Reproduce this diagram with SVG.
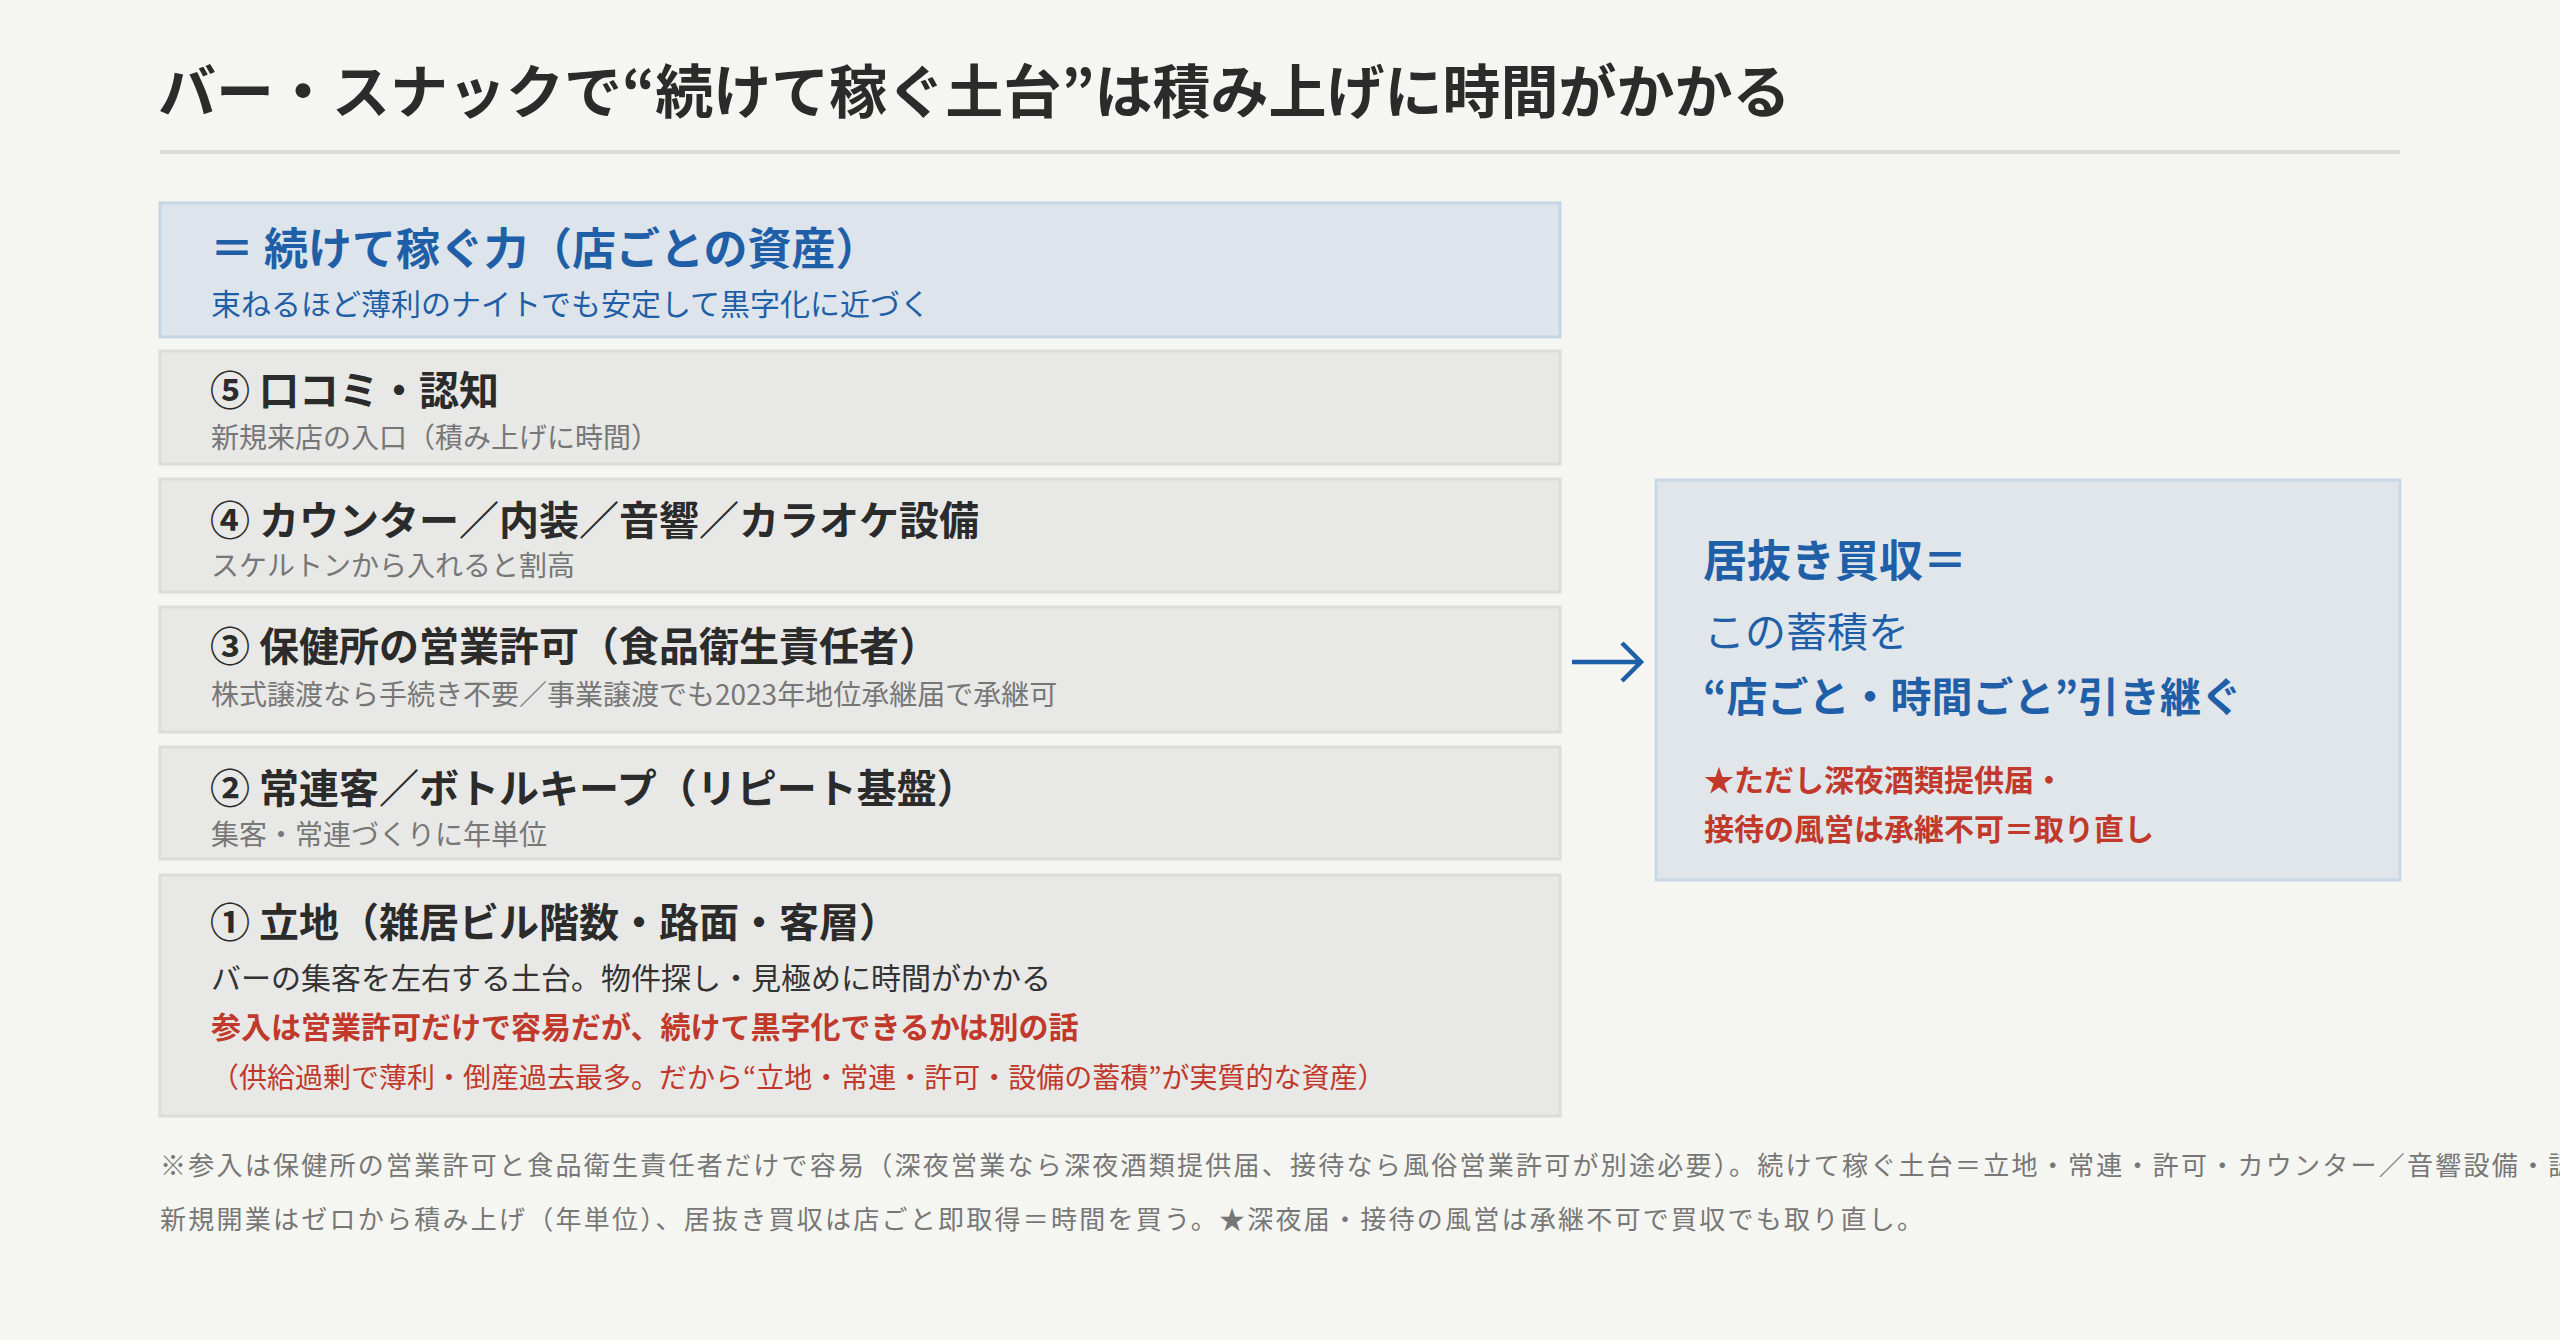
<svg xmlns="http://www.w3.org/2000/svg" width="2560" height="1340" viewBox="0 0 2560 1340">
<style>
text{font-family:"Noto Sans CJK JP","Noto Sans",sans-serif;}
.h1{font-size:58px;font-weight:700;fill:#2b2b2b;}
.box{fill:#e8e8e6;stroke:#dcdcd9;stroke-width:3;}
.bbox{fill:#dde4eb;stroke:#c6d5e5;stroke-width:3;}
.rbox{fill:#e1e6eb;stroke:#c9d7e6;stroke-width:3;}
.t{font-size:40px;font-weight:700;fill:#2b2b2b;}
.s{font-size:28px;fill:#777777;}
.body{font-size:30px;fill:#333333;}
.red{font-size:30px;font-weight:700;fill:#c0392b;}
.redn{font-size:28px;fill:#c0392b;}
.bt{font-size:44px;font-weight:700;fill:#1f5fa8;}
.bs{font-size:30px;fill:#1f5fa8;}
.bm{font-size:41px;fill:#1f5fa8;}
.bmb{font-size:41px;font-weight:700;fill:#1f5fa8;}
.note{font-size:26px;fill:#777777;letter-spacing:2.25px;}
.arrow{fill:none;stroke:#1f5fa8;stroke-width:4.5;stroke-linecap:butt;stroke-linejoin:miter;}
</style>
<rect width="2560" height="1340" fill="#f5f5f1"/>
<g id="title">
<text class="h1" x="158" y="113">バー・スナックで“続けて稼ぐ土台”は積み上げに時間がかかる</text>
<rect x="160" y="150" width="2240" height="4" fill="#dcdcd6"/>
</g>
<g id="node-asset">
<rect class="bbox" x="160" y="203" width="1400" height="134"/>
<text class="bt" x="210" y="265">＝ 続けて稼ぐ力（店ごとの資産）</text>
<text class="bs" x="211" y="315">束ねるほど薄利のナイトでも安定して黒字化に近づく</text>
</g>
<g id="node-5">
<rect class="box" x="160" y="351" width="1400" height="113"/>
<text class="t" x="210" y="405">⑤ 口コミ・認知</text>
<text class="s" x="211" y="448">新規来店の入口（積み上げに時間）</text>
</g>
<g id="node-4">
<rect class="box" x="160" y="479" width="1400" height="113"/>
<text class="t" x="210" y="535">④ カウンター／内装／音響／カラオケ設備</text>
<text class="s" x="211" y="576">スケルトンから入れると割高</text>
</g>
<g id="node-3">
<rect class="box" x="160" y="607" width="1400" height="125"/>
<text class="t" x="210" y="661">③ 保健所の営業許可（食品衛生責任者）</text>
<text class="s" x="211" y="705">株式譲渡なら手続き不要／事業譲渡でも2023年地位承継届で承継可</text>
</g>
<g id="node-2">
<rect class="box" x="160" y="747" width="1400" height="112"/>
<text class="t" x="210" y="803">② 常連客／ボトルキープ（リピート基盤）</text>
<text class="s" x="211" y="845">集客・常連づくりに年単位</text>
</g>
<g id="node-1">
<rect class="box" x="160" y="875" width="1400" height="241"/>
<text class="t" x="210" y="937">① 立地（雑居ビル階数・路面・客層）</text>
<text class="body" x="211" y="989">バーの集客を左右する土台。物件探し・見極めに時間がかかる</text>
<text class="red" x="211" y="1038">参入は営業許可だけで容易だが、続けて黒字化できるかは別の話</text>
<text class="redn" x="211" y="1088">（供給過剰で薄利・倒産過去最多。だから“立地・常連・許可・設備の蓄積”が実質的な資産）</text>
</g>
<g id="connectors">
<path class="arrow" d="M1572 662 H1641 M1622 643 L1641 662 L1622 681"/>
</g>
<g id="node-ibuki">
<rect class="rbox" x="1656" y="480" width="744" height="400"/>
<text class="bt" x="1703" y="577">居抜き買収＝</text>
<text class="bm" x="1704" y="647">この蓄積を</text>
<text class="bmb" x="1703" y="712">“店ごと・時間ごと”引き継ぐ</text>
<text class="red" x="1704" y="791">★ただし深夜酒類提供届・</text>
<text class="red" x="1704" y="840">接待の風営は承継不可＝取り直し</text>
</g>
<g id="footnote">
<text class="note" x="160" y="1175">※参入は保健所の営業許可と食品衛生責任者だけで容易（深夜営業なら深夜酒類提供届、接待なら風俗営業許可が別途必要）。続けて稼ぐ土台＝立地・常連・許可・カウンター／音響設備・認知</text>
<text class="note" x="160" y="1229">新規開業はゼロから積み上げ（年単位）、居抜き買収は店ごと即取得＝時間を買う。★深夜届・接待の風営は承継不可で買収でも取り直し。</text>
</g>
</svg>
